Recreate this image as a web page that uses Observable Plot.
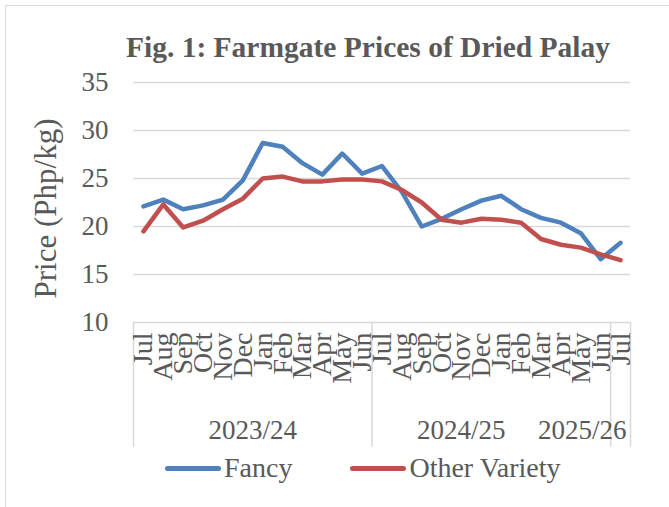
<!DOCTYPE html>
<html>
<head>
<meta charset="utf-8">
<script src="https://cdn.jsdelivr.net/npm/d3@7"></script>
<script src="https://cdn.jsdelivr.net/npm/@observablehq/plot@0.6"></script>
<style>
  html, body { margin: 0; padding: 0; background: #fff; }
  #wrap { position: relative; width: 669px; height: 507px; overflow: hidden; font-family: "Liberation Serif", "Times New Roman", serif; color: #595959; }
  #border { position: absolute; left: 5px; top: 5px; width: 720px; height: 600px; border: 1px solid #d9d9d9; box-sizing: border-box; }
  #title { position: absolute; left: 0; top: 33px; width: 736px; text-align: center; font-weight: bold; font-size: 29.5px; line-height: 29.5px; white-space: nowrap; }
  #chart { position: absolute; left: 0; top: 0; }
  #legend { position: absolute; left: 165px; top: 452px; display: flex; align-items: center; font-size: 28px; white-space: nowrap; }
  .sw { display: inline-block; width: 56px; height: 5px; border-radius: 3px; margin-right: 3px; }
</style>
</head>
<body>
<div id="wrap">
  <div id="border"></div>
  <div id="chart"></div>
  <div id="title">Fig. 1: Farmgate Prices of Dried Palay</div>
  <div id="legend"></div>
</div>
<script>
const months = ["Jul","Aug","Sep","Oct","Nov","Dec","Jan","Feb","Mar","Apr","May","Jun",
                "Jul","Aug","Sep","Oct","Nov","Dec","Jan","Feb","Mar","Apr","May","Jun","Jul"];
const fancy = [22.1,22.8,21.8,22.2,22.8,24.8,28.7,28.3,26.6,25.4,27.6,25.5,
               26.3,23.6,20.0,20.8,21.8,22.7,23.2,21.8,20.9,20.4,19.3,16.6,18.3];
const other = [19.5,22.3,19.9,20.6,21.8,22.9,25.0,25.2,24.7,24.7,24.9,24.9,
               24.7,23.8,22.5,20.7,20.4,20.8,20.7,20.4,18.7,18.1,17.8,17.1,16.5];
const groupLabels = ["2023/24","2024/25","2025/26"];
const groupStart = [0, 12, 24];
const groupEnd = [11, 23, 24];
const yTicks = [10, 15, 20, 25, 30, 35];
const seriesNames = ["Fancy", "Other Variety"];
const seriesColors = ["#4f81bd", "#c0504d"];

const rows = months.map((m, i) => ({i, m, fancy: fancy[i], other: other[i]}));
const groups = groupLabels.map((g, k) => ({label: g, start: groupStart[k], end: groupEnd[k]}));
const boundaries = [groupStart[0] - 0.5, ...groupEnd.map(e => e + 0.5)];

const font = '"Liberation Serif", "Times New Roman", serif';

const chart = Plot.plot({
  width: 669,
  height: 507,
  marginTop: 82,
  marginBottom: 185,
  marginLeft: 133,
  marginRight: 39,
  style: {fontFamily: font, color: "#595959", background: "transparent", overflow: "visible"},
  x: {type: "linear", domain: [-0.5, months.length - 0.5], axis: null},
  y: {domain: [10, 35], axis: null},
  marks: [
    Plot.ruleY(yTicks, {stroke: "#d9d9d9", strokeWidth: 1.5}),
    Plot.ruleX(boundaries, {x: d => d, y1: 10, y2: -3, stroke: "#d9d9d9", strokeWidth: 1.5}),
    Plot.axisY({ticks: yTicks, tickSize: 0, tickPadding: 25, fontSize: 27, fill: "#595959", label: null}),
    Plot.text(["Price (Php/kg)"], {frameAnchor: "left", text: d => d, rotate: -90, textAnchor: "middle", lineAnchor: "middle", dx: -87, dy: 6, fontSize: 31, fill: "#595959"}),
    Plot.text(rows, {x: "i", text: "m", frameAnchor: "bottom", rotate: -90, textAnchor: "end", lineAnchor: "middle", dy: 10, fontSize: 28, fill: "#595959"}),
    Plot.text(groups.slice(0, 1), {x: d => (d.start + d.end) / 2, text: "label", frameAnchor: "bottom", dy: 116, fontSize: 27, fill: "#595959"}),
    Plot.text(groups.slice(1, 2), {x: d => (d.start + d.end) / 2, text: "label", frameAnchor: "bottom", dy: 116, dx: -30, fontSize: 27, fill: "#595959"}),
    Plot.text(groups.slice(2, 3), {x: d => d.end + 0.5, text: "label", frameAnchor: "bottom", dy: 116, dx: -4, textAnchor: "end", fontSize: 27, fill: "#595959"}),
    Plot.line(rows, {x: "i", y: "fancy", stroke: seriesColors[0], strokeWidth: 4.5, strokeLinecap: "round", strokeLinejoin: "round"}),
    Plot.line(rows, {x: "i", y: "other", stroke: seriesColors[1], strokeWidth: 4.5, strokeLinecap: "round", strokeLinejoin: "round"})
  ]
});
document.getElementById("chart").appendChild(chart);

const legend = document.getElementById("legend");
seriesNames.forEach((name, k) => {
  const item = document.createElement("span");
  item.style.display = "inline-flex";
  item.style.alignItems = "center";
  item.style.marginRight = k === 0 ? "58px" : "0";
  const sw = document.createElement("span");
  sw.className = "sw";
  sw.style.background = seriesColors[k];
  const t = document.createElement("span");
  t.textContent = name;
  item.appendChild(sw);
  item.appendChild(t);
  legend.appendChild(item);
});
</script>
</body>
</html>
